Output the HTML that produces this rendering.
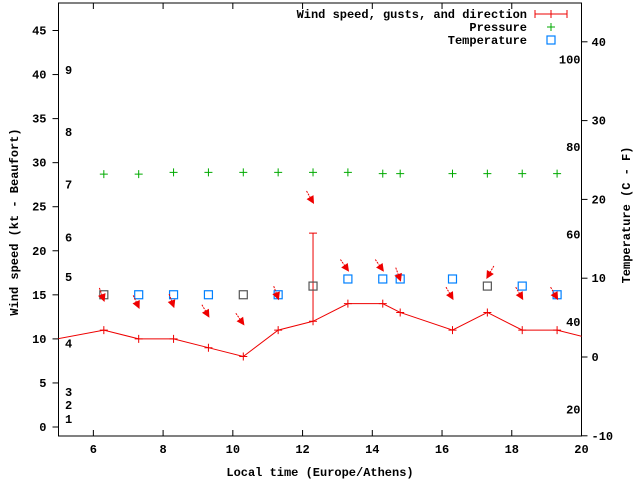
<!DOCTYPE html>
<html><head><meta charset="utf-8"><style>
body{margin:0;background:#fff}
svg text{font-family:"Liberation Mono",monospace;font-weight:bold;font-size:12px;fill:#000}
</style></head><body>
<svg width="640" height="480" viewBox="0 0 640 480" id="chart">
<rect x="0" y="0" width="640" height="480" fill="#fff"/>
<g id="axes"></g>
<g id="marks"></g>
<g id="legend">
<text x="527" y="18" text-anchor="end">Wind speed, gusts, and direction</text>
<path d="M535 14H567M535 10V18M567 10V18M551 10V18" stroke="#e00" stroke-width="1" fill="none"/>
<text x="527" y="31" text-anchor="end">Pressure</text>
<path d="M547 27H555M551 23V31" stroke="#0a0" stroke-width="1"/>
<text x="527" y="44" text-anchor="end">Temperature</text>
<rect x="547" y="36" width="8" height="8" fill="none" stroke="#0080ff" stroke-width="1.2"/>
</g>
<text x="320" y="476" text-anchor="middle">Local time (Europe/Athens)</text>
<text transform="translate(18,222) rotate(-90)" text-anchor="middle">Wind speed (kt - Beaufort)</text>
<text transform="translate(630,215) rotate(-90)" text-anchor="middle">Temperature (C - F)</text>
</svg>
<script>
const hours=[4.3,6.3,7.3,8.3,9.3,10.3,11.3,12.3,13.3,14.3,14.8,16.3,17.3,18.3,19.3,20.3];
const wind=[9.5,11,10,10,9,8,11,12,14,14,13,11,13,11,11,10];
const gust=[null,null,null,null,null,null,null,22,null,null,null,null,null,null,null,null];
const obsHours=[6.3,7.3,8.3,9.3,10.3,11.3,12.3,13.3,14.3,14.8,16.3,17.3,18.3,19.3];
const pressure=[28.7,28.7,28.9,28.9,28.9,28.9,28.9,28.9,28.75,28.75,28.75,28.75,28.75,28.75];
const tempC=[7.9,7.9,7.9,7.9,7.9,7.9,9.0,9.9,9.9,9.9,9.9,9.0,9.0,7.9];
const tempStale=[1,0,0,0,1,0,1,0,0,0,0,1,0,0];
const arrowY=[14.4,13.6,13.7,12.6,11.7,14.6,25.5,17.8,17.8,16.7,14.6,17.0,14.6,14.6];
const arrowDir=[160,155,160,150,145,160,150,145,145,160,150,210,150,150];
const xTicks=[6,8,10,12,14,16,18,20];
const yTicks=[0,5,10,15,20,25,30,35,40,45];
const y2Ticks=[-10,0,10,20,30,40];
const fTicks=[20,40,60,80,100];
const bft=[1,2,3,4,5,6,7,8,9];
const bftY=[0.9,2.5,4,9.5,17,21.5,27.5,33.5,40.5];

const L=58.5,R=581.5,T=3,B=436;
const X=h=>L+(h-5)*(R-L)/15;
const Y=v=>427-v*(427-30.5)/45;
const Y2=c=>357-c*7.88;
const ns="http://www.w3.org/2000/svg";
function mk(t,a,p){const e=document.createElementNS(ns,t);for(const k in a)e.setAttribute(k,a[k]);p.appendChild(e);return e;}
const ax=document.getElementById('axes'),mg=document.getElementById('marks');
const frame=mk('rect',{x:L,y:T,width:R-L,height:B-T,fill:'none',stroke:'#000','stroke-width':1},ax);


xTicks.forEach(h=>{const x=X(h);mk('path',{d:`M${x} ${B}V${B-6}M${x} ${T}V${T+6}`,stroke:'#000'},ax);
 const t=mk('text',{x:x,y:B+17,'text-anchor':'middle'},ax);t.textContent=h;
 
 });
yTicks.forEach(v=>{const y=Y(v);mk('path',{d:`M${L} ${y}H${L-6}`,stroke:'#000'},ax);
 const t=mk('text',{x:L-12,y:y+4,'text-anchor':'end'},ax);t.textContent=v;
 
 });
y2Ticks.forEach(c=>{const y=Y2(c);mk('path',{d:`M${R} ${y}H${R+6}`,stroke:'#000'},ax);
 const t=mk('text',{x:R+10,y:y+4},ax);t.textContent=c;
 
 });
fTicks.forEach(f=>{const t=mk('text',{x:R-1,y:Y2((f-32)/1.8)+4,'text-anchor':'end'},ax);t.textContent=f;
 
 });
bft.forEach((b,i)=>{const t=mk('text',{x:65,y:Y(bftY[i])+4},ax);t.textContent=b;
 
 });
const clip=mk('clipPath',{id:'cp'},mg);mk('rect',{x:L,y:T,width:R-L,height:B-T},clip);
const g=mk('g',{'clip-path':'url(#cp)'},mg);
const line=mk('polyline',{points:hours.map((h,i)=>X(h)+','+Y(wind[i])).join(' '),fill:'none',stroke:'#e00','stroke-width':1},g);


hours.forEach((h,i)=>{const x=X(h),y=Y(wind[i]);
 const p=mk('path',{d:`M${x-4} ${y}H${x+4}M${x} ${y-4}V${y+4}`,stroke:'#e00'},g);
 
 
 if(gust[i]!=null){const e=mk('path',{d:`M${x} ${y}V${Y(gust[i])}M${x-4} ${Y(gust[i])}H${x+4}`,stroke:'#e00'},g);
  
  }});
obsHours.forEach((h,i)=>{const x=X(h);
 const p=mk('path',{d:`M${x-4} ${Y(pressure[i])}H${x+4}M${x} ${Y(pressure[i])-4}V${Y(pressure[i])+4}`,stroke:'#0a0'},g);
 
 
 const s=mk('rect',{x:x-4,y:Y2(tempC[i])-4,width:8,height:8,fill:'none',stroke:tempStale[i]?'#555':'#0080ff','stroke-width':1.2},g);
 
 
 const ay=Y(arrowY[i]),a=arrowDir[i]*Math.PI/180,dx=Math.sin(a),dy=-Math.cos(a);
 const ag=mk('g',{},g);
 
 
 mk('line',{x1:x-dx*13,y1:ay-dy*13,x2:x,y2:ay,stroke:'#e00','stroke-dasharray':'2,1'},ag);
 const px=-dy,py=dx;
 mk('polygon',{points:`${x+dx*2},${ay+dy*2} ${x-dx*6+px*4},${ay-dy*6+py*4} ${x-dx*6-px*4},${ay-dy*6-py*4}`,fill:'#e00'},ag);
});
</script>
</body></html>
